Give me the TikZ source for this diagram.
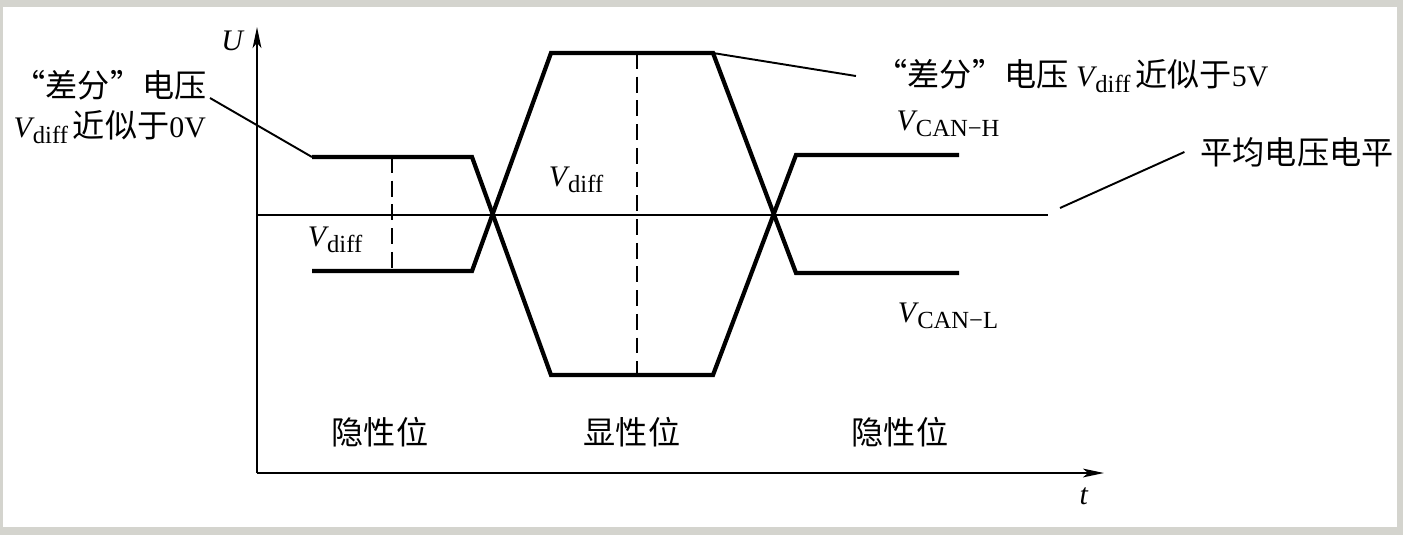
\documentclass[tikz,border=0pt]{standalone}
\usepackage{fontspec}
\setmainfont{Liberation Serif}
\newfontfamily\cjk{Noto Sans CJK SC}
\usetikzlibrary{positioning,arrows.meta}
\definecolor{framegray}{RGB}{212,212,206}
\newcommand{\sigV}[1]{\textit{V}\kern-1pt\raisebox{-0.4ex}{\fontsize{14}{14}\selectfont #1}}
\newcommand{\zh}[1]{{\fontsize{18.3}{22}\selectfont\cjk #1}}
\tikzset{
  sigline/.style={line width=2.4pt},
  axisline/.style={line width=1.1pt},
  leader/.style={line width=1.1pt},
  diffline/.style={line width=1.1pt, dash pattern=on 9pt off 4.5pt},
  axistip/.style={-{Stealth[length=12pt,width=5pt,inset=3pt]}},
  lbl/.style={inner sep=1pt, font=\fontsize{17}{23}\selectfont},
  cjklbl/.style={inner sep=1pt, font=\fontsize{18.3}{22}\selectfont\cjk}
}
\begin{document}
\begin{tikzpicture}[x=0.02cm,y=-0.02cm]
\useasboundingbox (0,0) rectangle (1403,535);
% frame
\fill[framegray] (0,0) rectangle (1403,535);
\fill[white] (3,7) rectangle (1397,527);

% axes
\coordinate (org) at (257,473);
\coordinate (utop) at (257,27);
\coordinate (tend) at (1104,473);
\draw[axisline,axistip] (org) -- (utop);
\draw[axisline,axistip] (org) -- (tend);
\node[lbl] (ulbl) at (233,41) {\textit{U}};
\node[lbl] (tlbl) at (1084,496) {\textit{t}};

% mean level
\coordinate (m0) at (257,215);
\coordinate (m1) at (1048,215);
\draw[axisline] (m0) -- (m1);

% CAN-H / CAN-L
\coordinate (h0) at (312,157);
\coordinate (h1) at (472,157);
\coordinate (hd1) at (551,53);
\coordinate (hd2) at (713,53);
\coordinate (h2) at (796,155);
\coordinate (h3) at (959,155);
\coordinate (l0) at (312,271);
\coordinate (l1) at (472,271);
\coordinate (ld1) at (551,375);
\coordinate (ld2) at (713,375);
\coordinate (l2) at (796,273);
\coordinate (l3) at (959,273);
\draw[sigline] (h0) -- (h1) -- (ld1) -- (ld2) -- (h2) -- (h3);
\draw[sigline] (l0) -- (l1) -- (hd1) -- (hd2) -- (l2) -- (l3);

% differential voltage
\draw[diffline] (392,157) -- (392,271);
\draw[diffline] (637,53) -- (637,375);
\node[lbl] (vd0) at (335,240) {\sigV{diff}};
\node[lbl] (vd1) at (576,180) {\sigV{diff}};

% labels
\node[lbl] (vh) at (948,124) {\sigV{CAN−H}};
\node[lbl] (vl) at (948,316) {\sigV{CAN−L}};
\node[lbl, align=left] (lbl0) at (110,107)
  {\zh{“差分”电压}\\\sigV{diff}\,\zh{近似于}0V};
\node[lbl] (lbl5) at (1072,76) {\zh{“差分”电压}~\sigV{diff}\,\zh{近似于}5V};
\node[cjklbl] (avg) at (1297,152) {平均电压电平};
\coordinate (tip0) at (210,98);
\coordinate (tipavg) at (1060,208);
\draw[leader] (tip0) -- (h0);
\draw[leader] (hd2) -- ([xshift=-10pt]lbl5.west);
\draw[leader] (tipavg) -- ([xshift=-8pt]avg.west);

\node[cjklbl] (rec0) at (380,432) {隐性位};
\node[cjklbl] (dom) at (632,432) {显性位};
\node[cjklbl] (rec1) at (900,432) {隐性位};
\end{tikzpicture}
\end{document}
